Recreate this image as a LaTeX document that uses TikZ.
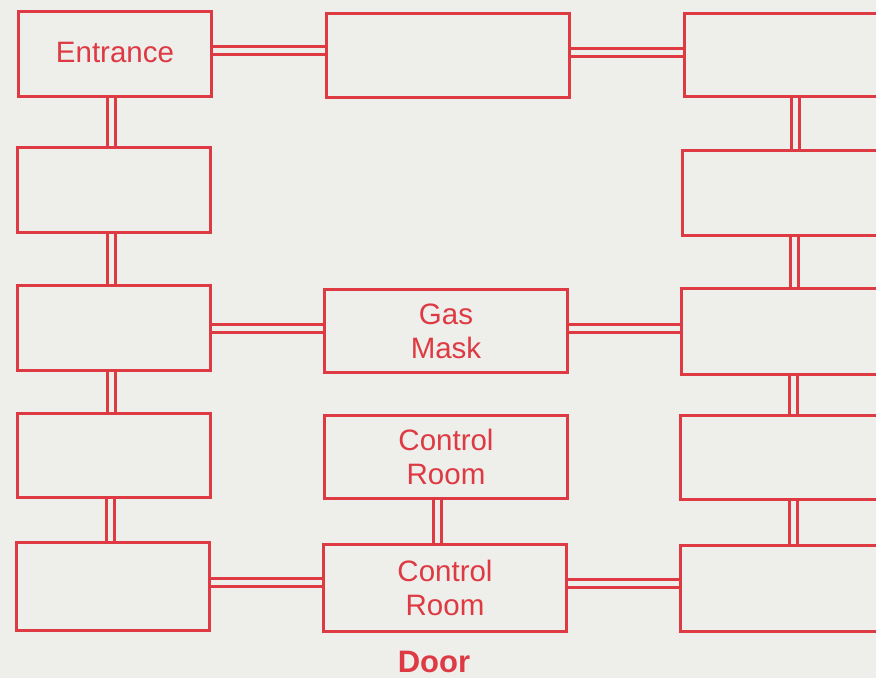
\documentclass[tikz,border=0pt]{standalone}
\usepackage{fontspec}
\setmainfont{Liberation Sans}
\definecolor{rred}{RGB}{222,58,68}
\definecolor{bg}{RGB}{238,238,235}
\tikzset{
  room/.style={draw=rred, line width=3pt, rectangle, inner sep=0pt, align=center,
    text=rred, font=\fontsize{29.5}{34}\selectfont},
  lcol/.style={room, minimum width=193pt},
  mcol/.style={room, minimum width=243pt},
  rcol/.style={room, minimum width=240pt},
  dbl/.style={draw=rred, line width=3pt, double=bg, double distance=5pt},
}
\begin{document}
\begin{tikzpicture}[x=1pt,y=-1pt]
\useasboundingbox (0,0) rectangle (876,678);
\fill[bg] (0,0) rectangle (876,678);
\clip (0,0) rectangle (876,678);
% left column
\node[lcol, minimum height=85pt] (L1) at (115,54) {\raisebox{3pt}{Entrance}};
\node[lcol, minimum height=85pt] (L2) at (114,190) {};
\node[lcol, minimum height=85pt] (L3) at (114,328) {};
\node[lcol, minimum height=84pt] (L4) at (114,455) {};
\node[lcol, minimum height=88pt] (L5) at (113,586) {};
% middle column
\node[mcol, minimum height=84pt] (M1) at (448,55) {};
\node[mcol, minimum height=83pt] (M3) at (446,331) {Gas\\Mask};
\node[mcol, minimum height=83pt] (M4) at (446,457) {Control\\Room};
\node[mcol, minimum height=87pt] (M5) at (445,588) {Control\\Room};
% right column
\node[rcol, minimum height=83pt] (R1) at (804,55) {};
\node[rcol, minimum height=85pt] (R2) at (802,193) {};
\node[rcol, minimum height=86pt] (R3) at (801,331) {};
\node[rcol, minimum height=84pt] (R4) at (800,457) {};
\node[rcol, minimum height=86pt] (R5) at (800,588) {};
% door label
\node[text=rred, font=\fontsize{31}{34}\selectfont\bfseries] (door) at (434,662) {Door};
% horizontal connectors
\draw[dbl] (L1.east |- 0,50) -- (M1.west |- 0,50);
\draw[dbl] (M1.east |- 0,52) -- (R1.west |- 0,52);
\draw[dbl] (L3.east |- 0,328) -- (M3.west |- 0,328);
\draw[dbl] (M3.east |- 0,328) -- (R3.west |- 0,328);
\draw[dbl] (L5.east |- 0,582) -- (M5.west |- 0,582);
\draw[dbl] (M5.east |- 0,583) -- (R5.west |- 0,583);
% vertical connectors
\draw[dbl] (L1.south -| 111,0) -- (L2.north -| 111,0);
\draw[dbl] (L2.south -| 111,0) -- (L3.north -| 111,0);
\draw[dbl] (L3.south -| 111,0) -- (L4.north -| 111,0);
\draw[dbl] (L4.south -| 110,0) -- (L5.north -| 110,0);
\draw[dbl] (M4.south -| 437,0) -- (M5.north -| 437,0);
\draw[dbl] (R1.south -| 795,0) -- (R2.north -| 795,0);
\draw[dbl] (R2.south -| 794,0) -- (R3.north -| 794,0);
\draw[dbl] (R3.south -| 793,0) -- (R4.north -| 793,0);
\draw[dbl] (R4.south -| 793,0) -- (R5.north -| 793,0);
\end{tikzpicture}
\end{document}
